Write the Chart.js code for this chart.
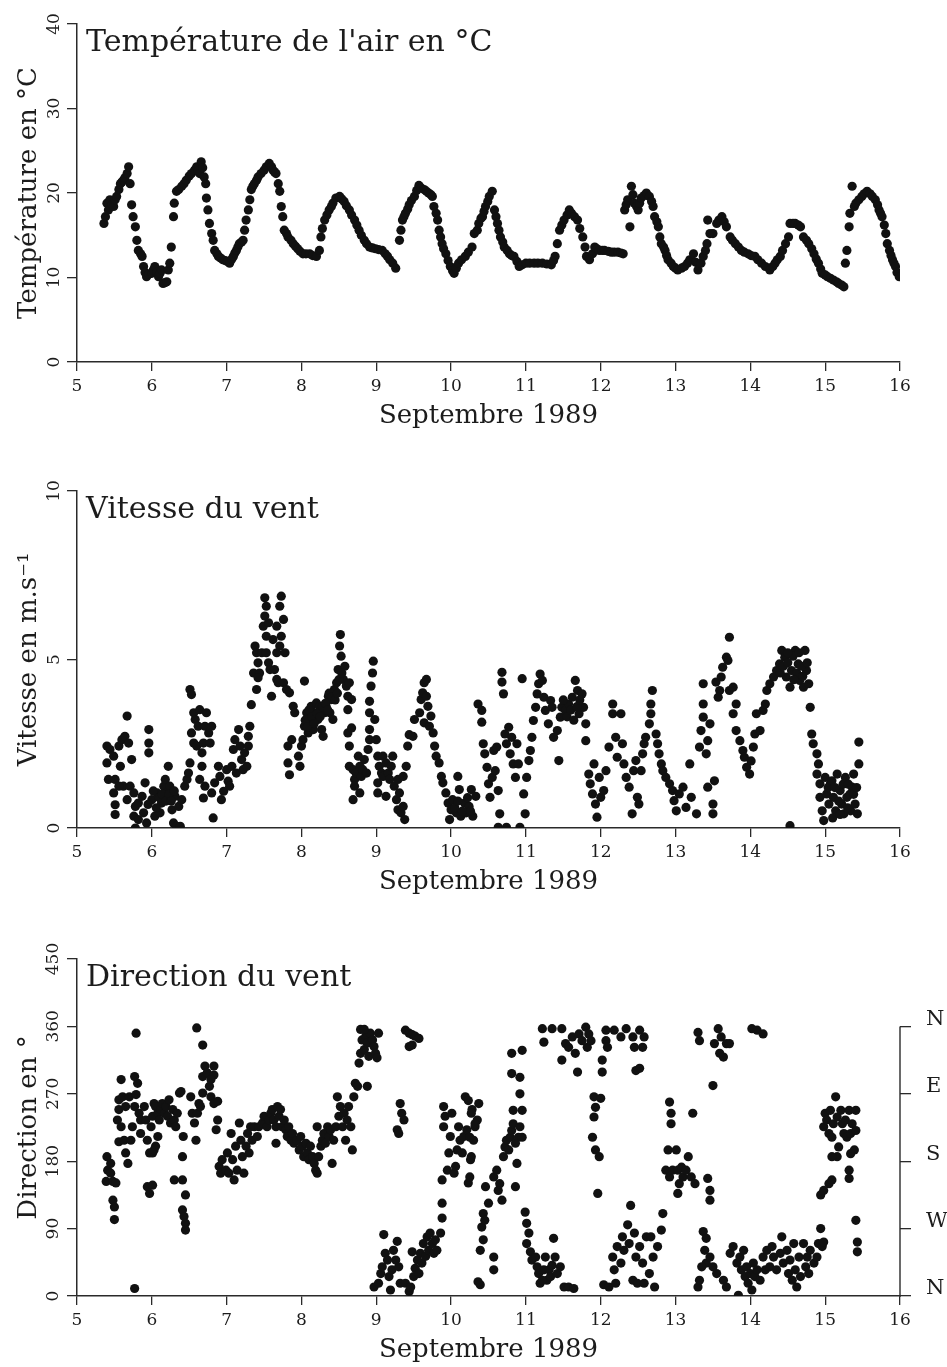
<!DOCTYPE html>
<html>
<head>
<meta charset="utf-8">
<script src="https://cdn.jsdelivr.net/npm/chart.js@4.4.0/dist/chart.umd.min.js"></script>
<style>
html,body{margin:0;padding:0;background:#fff;}
body{width:947px;height:1367px;position:relative;overflow:hidden;}
canvas{position:absolute;left:0;}
</style>
</head>
<body>
<canvas id="c1" width="947" height="470" style="top:0px"></canvas>
<canvas id="c2" width="947" height="440" style="top:470px"></canvas>
<canvas id="c3" width="947" height="457" style="top:910px"></canvas>
<script>
// ---------- texts ----------
const xAxisTitle = 'Septembre 1989';
const tempTitle = "Température de l'air en °C";
const tempAxisTitle = 'Température en °C';
const speedTitle = 'Vitesse du vent';
const speedAxisTitle = 'Vitesse en m.s⁻¹';
const dirTitle = 'Direction du vent';
const dirAxisTitle = 'Direction en °';
const compassValues = [0, 90, 180, 270, 360];
const compassLabels = ['N', 'W', 'S', 'E', 'N'];

// ---------- data: [day of September 1989, value] ----------
const tempSeries = [
[5.36,16.4],[5.38,17.2],[5.40,18.8],[5.42,18.0],[5.44,19.2],[5.47,18.6],[5.49,18.4],[5.51,19.2],[5.53,19.6],[5.56,20.4],
[5.58,21.1],[5.60,21.3],[5.62,21.5],[5.64,21.8],[5.67,22.3],[5.69,23.1],[5.71,21.1],[5.73,18.6],[5.75,17.2],[5.78,16.0],
[5.80,14.4],[5.82,13.2],[5.85,12.8],[5.87,12.5],[5.89,11.3],[5.91,10.6],[5.93,10.1],[5.96,10.4],[6.00,10.5],[6.02,10.9],
[6.04,11.3],[6.07,10.6],[6.09,10.1],[6.11,10.5],[6.13,10.9],[6.15,9.3],[6.18,9.4],[6.20,9.5],[6.22,10.9],[6.24,11.7],
[6.26,13.6],[6.29,17.2],[6.30,18.8],[6.33,20.2],[6.36,20.4],[6.40,20.8],[6.43,21.1],[6.46,21.5],[6.50,22.0],[6.53,22.3],
[6.57,22.7],[6.60,23.1],[6.62,22.6],[6.64,22.3],[6.66,23.7],[6.68,23.0],[6.70,21.9],[6.72,21.1],[6.73,19.4],[6.75,18.0],
[6.77,16.4],[6.80,15.2],[6.82,14.4],[6.84,13.2],[6.87,12.8],[6.89,12.5],[6.92,12.3],[6.95,12.1],[6.98,12.0],[7.01,11.9],
[7.04,11.7],[7.07,12.2],[7.09,12.5],[7.11,12.9],[7.13,13.2],[7.15,13.6],[7.17,14.0],[7.20,14.2],[7.22,14.4],[7.24,15.6],
[7.26,16.8],[7.29,18.0],[7.31,19.2],[7.33,20.4],[7.35,20.8],[7.37,21.1],[7.40,21.5],[7.42,21.9],[7.46,22.3],[7.50,22.7],
[7.53,23.1],[7.57,23.5],[7.60,23.1],[7.62,22.7],[7.64,22.5],[7.66,22.3],[7.69,21.1],[7.71,20.2],[7.73,18.4],[7.75,17.2],
[7.77,15.6],[7.80,15.2],[7.82,14.8],[7.86,14.4],[7.89,14.0],[7.92,13.7],[7.95,13.4],[7.98,13.1],[8.02,12.8],[8.06,12.8],
[8.11,12.8],[8.15,12.6],[8.20,12.5],[8.24,13.2],[8.26,14.8],[8.28,15.8],[8.31,16.8],[8.34,17.4],[8.37,18.0],[8.40,18.4],
[8.42,18.8],[8.46,19.4],[8.51,19.6],[8.54,19.3],[8.57,19.0],[8.60,18.5],[8.64,18.0],[8.67,17.4],[8.71,16.8],[8.74,16.2],
[8.77,15.6],[8.80,15.0],[8.84,14.4],[8.87,14.0],[8.91,13.6],[8.95,13.5],[8.99,13.4],[9.03,13.3],[9.08,13.2],[9.12,12.8],
[9.15,12.5],[9.18,12.1],[9.22,11.7],[9.26,11.1],
[9.31,14.4],[9.33,15.6],[9.35,16.8],[9.37,17.2],[9.39,17.6],[9.42,18.1],[9.44,18.6],[9.47,19.1],[9.51,19.6],[9.54,20.3],
[9.57,20.9],[9.60,20.6],[9.64,20.4],[9.67,20.2],[9.70,20.0],[9.73,19.8],[9.75,19.6],[9.77,18.4],[9.80,17.6],[9.82,16.8],
[9.84,15.6],[9.86,14.8],[9.88,14.0],[9.90,13.4],[9.93,12.8],[9.96,12.0],[9.99,11.3],[10.02,10.8],[10.04,10.5],[10.07,11.1],
[10.10,11.7],[10.14,12.1],[10.19,12.5],[10.23,13.0],[10.28,13.6],[10.31,15.2],[10.35,15.6],[10.37,16.4],[10.40,17.0],[10.42,17.2],
[10.44,17.8],[10.46,18.4],[10.49,19.0],[10.51,19.6],[10.55,20.2],[10.58,18.0],[10.60,17.2],[10.62,16.4],[10.64,15.6],[10.66,14.8],
[10.69,14.2],[10.71,13.6],[10.75,13.2],[10.78,12.8],[10.81,12.6],[10.84,12.5],[10.88,11.9],[10.91,11.3],[10.95,11.5],[11.00,11.7],
[11.05,11.7],[11.11,11.7],[11.16,11.7],[11.22,11.7],[11.28,11.6],[11.34,11.5],[11.37,12.0],[11.39,12.5],[11.42,14.0],[11.45,15.6],
[11.48,16.2],[11.51,16.8],[11.55,17.4],[11.58,18.0],[11.61,17.6],[11.65,17.2],[11.69,16.8],[11.72,15.8],[11.76,14.8],[11.79,13.6],
[11.81,12.5],[11.85,12.1],[11.89,12.8],[11.92,13.6],[11.95,13.4],[11.98,13.2],[12.02,13.2],[12.05,13.2],[12.10,13.1],[12.14,13.0],
[12.18,13.0],[12.23,13.0],[12.27,12.9],[12.30,12.8],
[12.32,18.0],[12.34,18.6],[12.36,19.2],[12.39,16.0],[12.41,20.8],[12.43,19.8],[12.45,18.8],[12.48,18.4],[12.50,18.0],[12.52,18.8],
[12.54,19.4],[12.58,19.7],[12.61,20.0],[12.65,19.6],[12.68,19.0],[12.70,18.4],[12.72,17.2],[12.75,16.6],[12.77,16.0],[12.79,14.8],
[12.81,14.0],[12.84,13.6],[12.86,13.2],[12.88,12.6],[12.90,12.1],[12.94,11.7],[12.97,11.3],[13.00,11.1],[13.03,10.9],[13.08,11.1],
[13.12,11.3],[13.16,11.7],[13.19,12.1],[13.24,12.8],[13.27,11.8],[13.30,10.9],[13.34,11.7],[13.37,12.5],[13.40,13.2],[13.42,14.0],
[13.43,16.8],[13.46,15.2],[13.50,15.2],[13.55,16.4],[13.58,16.8],[13.62,17.2],[13.65,16.6],[13.68,16.0],[13.73,14.8],[13.76,14.4],
[13.80,14.0],[13.84,13.6],[13.88,13.2],[13.92,13.0],[13.97,12.8],[14.01,12.6],[14.06,12.5],[14.10,12.1],[14.15,11.7],[14.20,11.3],
[14.26,10.9],[14.30,11.3],[14.33,11.7],[14.36,12.1],[14.40,12.5],[14.43,13.2],[14.47,14.0],[14.51,14.8],[14.53,16.4],[14.57,16.4],
[14.60,16.4],[14.64,16.2],[14.67,16.0],[14.71,14.8],[14.75,14.4],[14.78,14.0],[14.82,13.4],[14.85,12.8],[14.88,12.2],[14.91,11.7],
[14.94,11.0],[14.96,10.5],[15.00,10.3],[15.03,10.1],[15.07,9.9],[15.11,9.7],[15.15,9.5],[15.18,9.3],[15.22,9.1],[15.25,8.9],
[15.27,11.7],[15.29,13.2],[15.32,16.0],[15.33,17.6],[15.36,20.8],[15.39,18.4],[15.41,18.8],[15.45,19.2],[15.49,19.6],[15.52,19.9],
[15.56,20.2],[15.60,19.9],[15.63,19.6],[15.67,19.2],[15.70,18.6],[15.72,18.0],[15.74,17.6],[15.76,17.2],[15.79,16.2],[15.81,15.2],
[15.83,14.0],[15.86,13.2],[15.88,12.6],[15.90,12.1],[15.92,11.7],[15.94,11.3],[15.96,10.6],[15.99,10.1]
];

const speedSeries = [
[5.40,2.43],[5.44,2.33],[5.40,1.93],[5.42,1.44],[5.49,2.13],[5.51,1.44],[5.49,1.04],[5.51,0.69],[5.51,0.40],[5.56,2.43],
[5.58,1.83],[5.60,2.62],[5.64,2.72],[5.67,3.32],[5.69,2.52],[5.73,2.03],[5.62,1.24],[5.56,1.24],[5.67,0.84],[5.71,1.24],
[5.76,1.04],[5.78,0.64],[5.76,0.35],[5.78,0.00],[5.82,0.25],[5.82,0.74],[5.87,0.94],[5.89,0.45],[5.93,0.15],[5.96,2.92],
[5.96,2.52],[5.96,2.23],[5.91,1.34],[6.00,0.84],[6.04,0.35],[6.07,1.04],[6.11,0.45],[6.13,0.74],[6.16,1.24],[6.18,1.44],
[6.20,1.04],[6.22,1.83],[6.24,1.24],[6.27,0.54],[6.29,0.15],[6.33,0.05],[6.38,0.05],[6.31,0.94],[6.36,0.64],[6.40,0.84],
[6.44,1.24],[6.47,1.44],[6.49,1.63],[6.51,1.93],[6.53,2.82],[6.51,4.11],[6.53,3.96],[6.56,3.42],[6.58,3.22],[6.56,2.52],
[6.60,2.43],[6.62,3.02],[6.64,3.51],[6.67,2.23],[6.69,2.52],[6.71,3.02],[6.73,3.42],[6.76,2.82],[6.78,2.52],[6.80,3.02],
[6.67,1.83],[6.64,1.44],[6.69,0.89],[6.71,1.24],[6.82,0.30],[6.80,1.04],[6.84,1.34],[6.89,1.83],[6.91,1.53],[6.93,0.84],
[6.96,1.09],[7.00,1.73],[7.02,1.39],[7.04,1.24],[7.07,1.83],[7.09,2.33],[7.11,2.62],[7.16,2.92],[7.18,2.43],[7.20,2.03],
[7.13,1.63],[7.22,1.73],[7.24,2.23],[7.27,1.83],[7.29,2.43],[7.29,2.72],[7.31,3.02],[7.33,3.66],[7.36,4.60],[7.38,5.40],
[7.40,5.20],[7.42,4.90],[7.44,4.60],[7.40,4.11],[7.42,4.46],[7.47,5.20],[7.49,5.99],[7.51,6.83],[7.53,6.58],[7.51,6.29],
[7.56,6.09],[7.53,5.69],[7.53,5.20],[7.56,4.90],[7.58,4.70],[7.60,3.91],[7.64,4.70],[7.67,4.41],[7.67,5.20],[7.62,5.59],
[7.67,5.99],[7.71,6.58],[7.73,6.88],[7.76,6.19],[7.73,5.69],[7.78,5.20],[7.71,5.40],[7.69,4.31],[7.76,4.31],[7.80,4.11],
[7.84,4.01],[7.87,2.62],[7.89,3.61],[7.91,3.42],[7.82,2.43],[7.82,1.93],[7.84,1.58],[7.96,2.13],[7.98,1.83],[8.00,2.43],
[8.02,2.62],[8.04,3.02],[8.07,3.42],[8.04,4.36],[8.09,2.82],[8.11,3.22],[8.13,3.61],[8.16,2.92],[8.18,3.42],[8.20,3.71],
[8.22,3.22],[8.24,3.61],[8.27,2.92],[8.29,2.72],[8.31,3.42],[8.33,3.61],[8.36,3.91],[8.38,3.42],[8.40,3.81],[8.42,3.22],
[8.44,4.11],[8.47,4.31],[8.49,4.70],[8.51,5.40],[8.52,5.74],[8.53,5.10],[8.56,4.41],[8.58,4.80],[8.60,4.21],[8.62,3.91],
[8.64,4.31],[8.67,3.81],[8.62,3.51],[8.64,2.43],[8.62,2.82],[8.67,2.97],[8.64,1.83],[8.69,1.73],[8.71,1.44],[8.73,1.63],
[8.76,2.13],[8.78,1.83],[8.69,0.84],[8.71,1.24],[8.78,1.04],[8.80,1.53],[8.82,1.73],[8.84,2.03],[8.87,1.63],[8.89,2.33],
[8.91,2.62],[8.91,2.92],[8.91,3.42],[8.91,3.76],[8.93,4.21],[8.95,4.60],[8.96,4.95],[8.98,3.22],[9.00,2.62],[9.02,2.13],
[9.04,1.83],[9.07,1.63],[9.02,1.34],[9.02,1.04],[9.09,2.13],[9.09,1.53],[9.13,1.93],[9.13,0.94],[9.16,1.63],[9.18,1.44],
[9.20,1.83],[9.22,2.13],[9.24,1.24],[9.29,1.44],[9.27,0.84],[9.29,0.54],[9.31,1.04],[9.33,0.45],[9.36,0.64],[9.38,0.25],
[9.36,1.53],[9.40,1.83],[9.42,2.43],[9.44,2.77],[9.49,2.72],[9.51,3.22],[9.58,3.42],[9.60,3.81],[9.62,4.01],[9.64,4.31],
[9.67,4.41],[9.67,3.91],[9.69,3.61],[9.64,3.12],[9.71,3.02],[9.73,3.32],[9.76,2.82],[9.78,2.43],[9.80,2.13],[9.84,1.93],
[9.87,1.53],[9.89,1.34],[9.93,1.04],[9.96,0.74],[9.98,0.25],[10.00,0.54],[10.02,0.84],[10.07,0.45],[10.09,1.53],[10.11,1.14],
[10.13,0.35],[10.18,0.74],[10.20,0.45],[10.24,0.64],[10.27,1.14],[10.29,0.35],[10.33,0.94],
[10.05,0.60],[10.09,0.80],[10.15,0.50],[10.22,0.90],[10.26,0.50],
[5.95,0.70],[6.02,1.10],[6.06,0.60],[6.10,0.90],[6.14,1.00],[6.19,0.80],[6.23,1.00],[6.26,0.80],[6.30,1.10],
[8.05,3.20],[8.08,3.00],[8.10,3.50],[8.14,3.30],[8.17,3.10],[8.21,3.40],[8.25,3.30],[8.28,3.60],[8.32,3.70],[8.35,3.50],
[8.37,4.00],[8.41,3.90],[8.45,3.80],[8.48,4.00],[8.50,4.40],[8.54,4.60],
[10.36,3.68],[10.41,3.49],[10.41,3.14],[10.43,2.50],[10.45,2.20],[10.48,1.80],[10.50,1.31],[10.52,0.91],[10.55,1.50],[10.57,2.30],
[10.59,1.70],[10.61,2.40],[10.63,1.11],[10.65,0.42],[10.63,0.02],[10.74,0.02],[10.68,4.62],[10.68,4.33],[10.70,3.98],[10.72,2.79],
[10.74,2.50],[10.77,2.99],[10.79,2.20],[10.81,2.69],[10.83,1.90],[10.86,1.50],[10.88,2.50],[10.90,1.90],[10.92,0.02],[10.95,4.43],
[10.97,1.01],[10.99,0.42],[11.01,1.50],[11.04,2.00],[11.06,2.30],[11.08,2.69],[11.10,3.19],[11.13,3.58],[11.15,3.98],[11.17,4.28],
[11.19,4.57],[11.22,4.38],[11.24,3.88],[11.26,3.49],[11.30,3.09],[11.33,3.78],[11.35,3.58],[11.37,2.69],[11.42,2.89],[11.44,2.00],
[11.46,3.29],[11.48,3.58],[11.53,3.49],[11.57,3.68],[11.62,3.88],[11.66,4.38],[11.69,4.08],[11.71,3.39],[11.75,3.98],[11.77,3.58],
[11.80,3.09],[11.80,2.59],[11.84,1.60],[11.86,1.31],[11.91,1.90],[11.89,1.01],[11.93,0.71],[11.95,0.32],[11.98,1.50],[12.00,0.91],
[12.04,1.11],[12.07,1.70],[12.11,2.40],[12.16,3.68],[12.16,3.39],[12.20,2.69],[12.22,2.10],[12.27,3.39],[12.29,2.50],[12.31,1.90],
[12.34,1.50],[12.38,1.21],[12.42,0.42],[12.44,1.70],[12.47,2.00],[12.49,0.91],[12.51,0.71],[12.54,1.70],[12.56,2.20],[12.58,2.50],
[12.60,2.69],[12.65,3.09],[12.67,3.39],[12.67,3.68],[12.69,4.08],[12.74,2.79],[12.76,2.50],[12.78,2.20],[12.81,1.90],[12.83,1.70],
[12.87,1.50],[12.92,1.31],[12.96,1.11],[12.98,0.81],[13.01,0.51],[13.05,1.01],[13.10,1.21],[13.14,0.61],[13.19,1.90],[13.21,0.91],
[13.28,0.42],[13.32,2.40],[13.34,2.89],[13.37,3.29],[13.37,3.68],[13.37,4.28],[13.41,2.20],[13.43,2.59],[13.46,3.09],[13.43,1.21],
[13.50,0.71],[13.50,0.42],[13.52,1.40],[13.54,4.33],[13.59,4.08],[13.57,3.88],[13.61,4.48],[13.63,4.77],[13.68,5.07],[13.72,5.66],
[13.70,4.97],[13.72,4.08],[13.77,4.18],[13.81,3.68],[13.77,3.39],[13.81,2.89],[13.86,2.59],[13.90,2.30],[13.92,2.10],[13.95,1.80],
[13.99,1.60],[14.01,1.99],[14.04,2.40],[14.06,2.79],[14.08,3.39],[14.13,2.89],[14.17,3.49],[14.20,3.68],[14.22,4.08],[14.26,4.28],
[14.31,4.48],[14.35,4.67],[14.39,4.87],[14.42,5.27],[14.46,5.07],[14.48,4.48],[14.53,4.18],[14.55,4.67],[14.60,5.27],[14.64,4.87],
[14.66,4.38],[14.71,4.18],[14.73,5.27],[14.75,4.67],[14.78,4.28],[14.80,3.58],[14.53,0.07],[14.82,2.79],[14.84,2.50],[14.89,2.20],
[14.91,1.90],[14.89,1.60],[14.93,1.31],[14.93,0.91],[14.96,0.51],[14.98,0.22],[15.00,1.50],[15.02,1.01],[15.05,0.71],[15.07,1.31],
[15.11,0.91],[15.14,0.51],[15.16,1.60],[15.20,1.11],[15.22,0.71],[15.25,0.42],[15.27,1.50],[15.29,0.91],[15.34,0.51],[15.36,1.21],
[15.38,1.60],[15.40,0.71],[15.43,0.42],[15.45,1.90],[15.45,2.55],
[11.50,3.80],[11.55,3.30],[11.60,3.50],[11.64,3.20],[11.68,3.60],[11.72,3.80],
[14.40,4.60],[14.44,4.80],[14.50,4.90],[14.57,5.10],[14.62,4.60],[14.68,4.80],[14.70,4.50],[14.76,4.90],[14.50,5.20],[14.58,4.40],[14.65,5.20],
[15.04,1.20],[15.09,1.40],[15.13,1.20],[15.18,0.80],[15.24,1.30],[15.31,1.30],[15.33,1.00],[15.38,1.00],[15.42,1.20],[15.10,0.30],[15.20,0.40],[15.30,0.60]
];

const dirSeries = [
[5.40,186],[5.41,168],[5.39,153],[5.45,164],[5.48,153],[5.52,151],[5.48,128],[5.50,119],[5.50,102],[5.45,177],
[5.56,262],[5.59,289],[5.56,249],[5.61,266],[5.65,253],[5.70,266],[5.54,235],[5.59,226],[5.56,206],[5.63,208],
[5.65,191],[5.68,177],[5.72,208],[5.74,226],[5.77,253],[5.79,351],[5.77,293],[5.81,284],[5.83,244],[5.85,235],
[5.85,217],[5.90,253],[5.92,235],[5.94,208],[5.97,191],[5.94,146],[5.97,137],[6.01,148],[5.77,10],[5.79,269],
[5.99,226],[6.01,240],[6.03,257],[6.05,253],[6.08,244],[6.10,235],[6.12,249],[6.14,257],[6.17,244],[6.19,253],
[6.21,240],[6.23,262],[6.25,231],[6.28,249],[6.30,235],[6.32,226],[6.34,244],[6.37,271],[6.39,273],[6.42,213],
[6.01,191],[6.03,195],[6.08,213],[6.05,200],[6.30,155],[6.41,186],[6.41,155],[6.45,135],[6.41,115],[6.43,106],
[6.45,97],[6.45,88],
[6.52,266],[6.54,244],[6.57,231],[6.59,208],[6.61,244],[6.63,257],[6.65,253],[6.68,271],[6.68,293],[6.71,307],
[6.74,298],[6.77,280],[6.79,266],[6.83,257],[6.83,307],[6.88,235],[6.86,222],[6.60,358],[6.68,335],[6.83,295],
[6.79,289],[6.88,260],
[6.90,173],[6.92,164],[6.94,182],[6.99,168],[7.01,191],[7.03,164],[7.06,217],[7.08,182],[7.10,155],[7.12,200],
[7.14,168],[7.17,231],[7.19,208],[7.21,186],[7.23,164],[7.26,200],[7.28,217],[7.30,191],[7.32,226],[7.34,208],
[7.37,226],[7.41,213],[7.43,226],[7.48,231],[7.50,240],[7.54,226],[7.57,235],[7.59,244],[7.61,249],[7.63,235],
[7.66,226],[7.66,204],[7.68,253],[7.70,240],[7.72,249],[7.74,226],[7.77,235],[7.79,222],[7.81,213],[7.83,226],
[7.86,208],[7.88,217],[7.90,204],[7.94,208],[7.97,195],[7.99,213],[8.01,200],[8.03,186],[8.06,204],[8.08,191],
[8.10,182],[8.12,200],[8.15,186],[8.17,177],[8.19,168],[8.21,226],[8.21,164],[8.23,186],[8.26,200],[8.28,208],
[8.30,217],[8.32,204],[8.35,226],[8.37,213],[8.39,222],[8.41,177],[8.43,208],[8.46,226],[8.48,266],[8.50,240],
[8.52,253],[8.55,226],[8.57,244],[8.59,208],[8.61,235],[8.63,253],[8.66,226],[8.68,195],[8.70,266],[8.72,284],
[8.75,280],[8.77,311],[8.79,324],[8.81,342],[8.79,356],[8.84,329],[8.86,347],[8.88,338],[8.90,320],[8.88,280],
[8.92,351],[8.95,342],[8.97,333],[8.99,324],[9.01,318],[9.03,351],[8.84,356],
[8.97,12],[9.03,17],[9.06,30],[9.08,39],[9.10,82],[9.12,57],[9.15,48],[9.17,26],[9.19,8],[9.21,35],
[9.23,61],[9.26,48],[9.28,73],[9.30,39],[9.32,17],[9.28,222],[9.30,217],[9.32,257],[9.34,244],[9.37,235],
[9.39,355],[9.44,351],[9.48,349],[9.52,347],[9.44,333],[9.48,335],[9.57,344],
[9.39,17],[9.44,6],[9.46,12],[9.48,59],[9.50,26],[9.52,37],[9.55,48],[9.57,30],[9.59,57],[9.61,44],
[9.63,70],[9.66,53],[9.68,79],[9.70,61],[9.72,84],[9.75,70],[9.77,57],[9.79,75],[9.81,61],[9.88,124],
[9.88,104],[9.86,84],
[9.88,155],[9.90,226],[9.90,253],[9.92,240],[9.95,168],[9.97,191],[9.99,213],[10.01,244],[10.04,164],[10.06,173],
[10.08,195],[10.10,226],[10.12,208],[10.15,191],[10.17,213],[10.19,266],[10.21,222],[10.23,151],[10.26,182],[10.28,249],
[10.30,208],[10.32,226],[10.35,235],[10.37,257],[10.39,15],[10.46,146],
[10.23,261],[10.27,244],[10.32,230],[10.25,212],[10.27,186],[10.25,159],
[10.36,19],[10.41,92],[10.43,110],[10.45,101],[10.43,75],[10.39,61],[10.57,52],[10.57,35],[10.50,124],[10.57,159],
[10.61,168],[10.63,141],[10.65,150],[10.68,128],[10.70,186],[10.72,199],[10.74,208],[10.77,195],[10.79,212],[10.81,221],
[10.83,230],[10.86,204],[10.88,177],[10.90,212],[10.92,226],[10.95,212],[10.86,146],[10.81,324],[10.95,328],[10.81,297],
[10.92,292],[10.92,270],[10.83,248],[10.95,248],
[11.22,357],[11.35,357],[11.48,357],[11.24,339],[11.53,337],[11.48,315],[11.57,332],[11.62,346],[11.66,324],[11.71,350],
[11.75,341],[11.80,359],[11.82,332],[11.84,350],[11.87,341],[11.69,299],[12.07,355],[12.07,341],[12.09,332],[12.02,315],
[12.02,299],[12.18,355],[12.27,346],[12.34,357],[12.43,346],[12.52,355],[12.58,346],[12.45,332],[12.56,332],[12.47,301],
[12.52,304],
[11.91,266],[12.00,264],[11.93,252],[11.91,239],[11.89,212],[11.93,195],[11.98,186],[11.96,137],
[10.99,112],[11.01,97],[11.04,84],[11.01,70],[11.06,59],[11.08,48],[11.13,52],[11.15,39],[11.17,30],[11.19,17],
[11.24,35],[11.28,21],[11.31,35],[11.33,26],[11.35,41],[11.37,77],[11.39,52],[11.42,30],[11.46,39],[11.51,12],
[11.57,12],[11.64,10],[11.26,52],[11.22,21],
[12.04,15],[12.11,12],[12.16,52],[12.18,35],[12.20,17],[12.22,66],[12.27,44],[12.29,79],[12.31,61],[12.36,95],
[12.38,70],[12.40,121],[12.43,21],[12.45,84],[12.47,52],[12.49,17],[12.52,66],[12.56,44],[12.58,17],[12.61,79],
[12.65,30],[12.67,79],[12.70,52],[12.72,12],[12.76,66],[12.81,88],[12.83,110],
[12.92,259],[12.94,244],[12.94,230],[12.90,195],[12.87,168],[12.92,159],[12.96,168],[13.01,195],[13.03,168],[13.05,150],
[13.08,172],[13.10,159],[13.14,168],[13.17,186],[13.21,159],[13.26,150],[13.03,137],[13.23,244],[13.43,157],[13.46,141],
[13.46,128],
[13.30,12],[13.32,21],[13.37,86],[13.41,77],[13.39,61],[13.41,44],[13.35,39],[13.46,52],[13.50,39],[13.55,30],
[13.64,21],[13.68,12],[13.73,57],[13.77,66],[13.82,44],[13.84,1],[13.86,52],[13.88,35],[13.91,61],[13.93,26],
[13.95,39],[13.97,17],[14.00,30],[14.02,8],[14.04,44],[14.06,26],[14.09,35],[14.13,21],[14.17,52],[14.20,35],
[14.22,61],[14.26,39],[14.29,66],[14.31,52],[14.35,35],[14.40,57],[14.42,79],[14.44,44],[14.49,61],[14.51,30],
[14.53,48],[14.56,21],[14.58,70],[14.60,35],[14.62,12],[14.65,52],[14.67,26],[14.71,70],[14.74,39],[14.76,52],
[14.78,30],[14.80,61],[14.85,44],[14.89,52],[14.91,70],[14.94,90],[14.96,66],[14.98,72],
[13.30,352],[13.32,341],[13.52,337],[13.57,357],[13.61,346],[13.68,337],[13.72,337],[13.59,324],[13.64,319],[13.50,281],
[14.02,357],[14.09,355],[14.17,350],
[14.94,135],[14.98,141],[15.05,150],[15.09,155],[14.98,226],[15.00,244],[15.02,235],[15.05,217],[15.07,248],[15.09,212],
[15.11,230],[15.14,266],[15.16,239],[15.18,199],[15.21,248],[15.23,230],[15.25,217],[15.27,235],[15.29,212],[15.32,248],
[15.34,217],[15.36,230],[15.39,195],[15.41,248],[15.41,221],[15.34,190],[15.32,168],[15.32,157],[15.16,186],[15.09,186],
[15.41,101],[15.43,72],[15.43,59]
];

// ---------- styling ----------
const FONT = '"DejaVu Serif", "Liberation Serif", serif';
const INK = '#1c1c1c';
const AXIS = '#2a2a2a';
Chart.defaults.font.family = FONT;
Chart.defaults.color = INK;

const panelTitle = {
  id: 'panelTitle',
  afterDraw(chart, args, opts) {
    if (!opts || !opts.text) return;
    const {ctx, chartArea} = chart;
    ctx.save();
    ctx.font = opts.size + 'px ' + FONT;
    ctx.fillStyle = INK;
    ctx.textAlign = 'left';
    ctx.textBaseline = 'alphabetic';
    ctx.fillText(opts.text, chartArea.left + 9, chartArea.top + 27);
    ctx.restore();
  }
};

const compassLine = {
  id: 'compassLine',
  afterDraw(chart) {
    const s = chart.scales.y2;
    if (!s) return;
    const ctx = chart.ctx;
    ctx.save();
    ctx.strokeStyle = AXIS;
    ctx.lineWidth = 1.4;
    ctx.beginPath();
    ctx.moveTo(s.left, s.getPixelForValue(0) + 1);
    ctx.lineTo(s.left, s.getPixelForValue(360));
    ctx.stroke();
    ctx.restore();
  }
};

function xScale() {
  return {
    type: 'linear', min: 5, max: 16,
    ticks: {stepSize: 1, font: {size: 17}, color: INK, padding: 5, maxRotation: 0, autoSkip: false},
    grid: {drawOnChartArea: false, drawTicks: true, tickLength: 9, color: AXIS, lineWidth: 1.3},
    border: {display: true, color: AXIS, width: 1.5},
    title: {display: true, text: xAxisTitle, font: {size: 26}, color: INK, padding: {top: 0, bottom: 0}},
    afterFit: s => { s.height = 70; }
  };
}

function yScale(max, step, title, pad) {
  return {
    type: 'linear', min: 0, max: max,
    ticks: {stepSize: step, font: {size: 17}, color: INK, minRotation: 90, maxRotation: 90,
            crossAlign: 'center', padding: pad},
    grid: {drawOnChartArea: false, drawTicks: true, tickLength: 10, color: AXIS, lineWidth: 1.3},
    border: {display: true, color: AXIS, width: 1.5},
    title: {display: true, text: title, font: {size: 26}, color: INK, padding: {top: 14, bottom: 0}},
    afterFit: s => { s.width = 77; }
  };
}

function makeChart(id, series, yMax, yStep, yTitle, yPad, title, padding, extraScales) {
  const scales = Object.assign({x: xScale(), y: yScale(yMax, yStep, yTitle, yPad)}, extraScales || {});
  return new Chart(document.getElementById(id), {
    type: 'scatter',
    data: {
      datasets: [{
        data: series.map(p => ({x: p[0], y: p[1]})),
        pointRadius: 4.6,
        pointBackgroundColor: '#111',
        pointBorderWidth: 0,
        pointHoverRadius: 4.6
      }]
    },
    options: {
      responsive: false,
      animation: false,
      devicePixelRatio: 1,
      layout: {padding: padding},
      scales: scales,
      plugins: {
        legend: {display: false},
        tooltip: {enabled: false},
        panelTitle: {text: title, size: 30}
      },
      events: []
    },
    plugins: [panelTitle, compassLine]
  });
}

makeChart('c1', tempSeries, 40, 10, tempAxisTitle, 2, tempTitle,
  {top: 24, bottom: 38, left: 0, right: 47});
makeChart('c2', speedSeries, 10, 5, speedAxisTitle, 2, speedTitle,
  {top: 21, bottom: 12, left: 0, right: 47});
makeChart('c3', dirSeries, 450, 90, dirAxisTitle, -3, dirTitle,
  {top: 49, bottom: 1, left: 0, right: 0},
  {
    y2: {
      type: 'linear', position: 'right', min: 0, max: 450,
      afterBuildTicks: s => { s.ticks = compassValues.map(v => ({value: v})); },
      ticks: {
        font: {size: 21}, color: INK, padding: 15, labelOffset: -7,
        callback: v => compassLabels[compassValues.indexOf(v)]
      },
      grid: {drawOnChartArea: false, drawTicks: true, tickLength: 11, color: AXIS, lineWidth: 1.3},
      border: {display: false},
      afterFit: s => { s.width = 47; }
    }
  });
</script>
</body>
</html>
